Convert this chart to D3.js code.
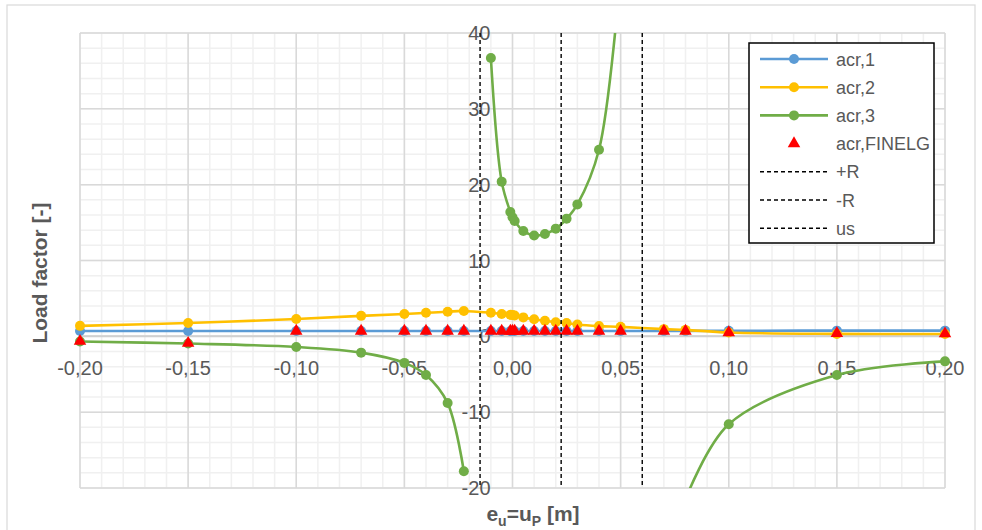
<!DOCTYPE html>
<html>
<head>
<meta charset="utf-8">
<script src="https://cdn.jsdelivr.net/npm/d3@7"></script>
<style>
    body { margin: 0; background: #ffffff; }
    svg text { font-family: "Liberation Sans", Arial, sans-serif; fill: #595959; }
</style>
</head>
<body>
<div id="graph_area"></div>
<script>
//x positions shared by acr,1 / acr,2 / FINELG
var xValues = [-0.20, -0.15, -0.10, -0.07, -0.05, -0.04, -0.03, -0.0225, -0.01, -0.005, -0.001, 0, 0.001,
    0.005, 0.01, 0.015, 0.02, 0.025, 0.03, 0.04, 0.05, 0.07, 0.08, 0.10, 0.15, 0.20];

var acr1 = [0.7, 0.7, 0.7, 0.7, 0.7, 0.7, 0.7, 0.7, 0.7, 0.7, 0.7, 0.7, 0.7,
    0.7, 0.7, 0.7, 0.7, 0.7, 0.7, 0.7, 0.7, 0.72, 0.72, 0.74, 0.75, 0.75];

var acr2 = [1.38, 1.75, 2.28, 2.7, 2.95, 3.1, 3.25, 3.35, 3.1, 2.95, 2.85, 2.8, 2.75,
    2.5, 2.25, 2.05, 1.85, 1.75, 1.55, 1.35, 1.25, 0.95, 0.85, 0.5, 0.32, 0.3];

var finelg = [-0.64, -0.9, 0.7, 0.7, 0.7, 0.7, 0.7, 0.7, 0.7, 0.7, 0.7, 0.7, 0.7,
    0.7, 0.7, 0.7, 0.7, 0.7, 0.7, 0.7, 0.7, 0.7, 0.7, 0.5, 0.4, 0.35];

//acr,3 has its own x list, null = break in the line
var acr3X = [-0.20, -0.15, -0.10, -0.07, -0.05, -0.04, -0.03, -0.0225, -0.015, -0.01, -0.005, -0.001, 0, 0.001,
    0.005, 0.01, 0.015, 0.02, 0.025, 0.03, 0.04, 0.05, 0.07, 0.08, 0.10, 0.15, 0.20];
var acr3 = [-0.68, -0.95, -1.4, -2.15, -3.5, -5.1, -8.8, -17.8, null, 36.7, 20.4, 16.4, 15.7, 15.2,
    13.9, 13.3, 13.5, 14.2, 15.5, 17.4, 24.6, 48, null, -21.5, -11.6, -5.1, -3.3];

//vertical reference lines
var refNames = ['+R', '-R', 'us'];
var refValues = [-0.015, 0.0225, 0.06];

var xTicks = [-0.20, -0.15, -0.10, -0.05, 0, 0.05, 0.10, 0.15, 0.20];
var yTicks = [-20, -10, 0, 10, 20, 30, 40];

var seriesNames = ['acr,1', 'acr,2', 'acr,3', 'acr,FINELG'];
var seriesColors = ['#5B9BD5', '#FFC000', '#70AD47', '#FF0000'];

function draw_chart() {
    var w = 982, h = 530;
    var left = 80, right = 945, top = 33, bottom = 488;

    var svg = d3.select('#graph_area').append('svg')
        .attr('width', w)
        .attr('height', h);

    //outer chart border
    svg.append('rect')
        .attr('x', 7).attr('y', 5)
        .attr('width', 968).attr('height', 530)
        .attr('fill', 'none')
        .attr('stroke', '#d9d9d9')
        .attr('stroke-width', 1.2);

    var x = d3.scaleLinear().domain([-0.2, 0.2]).range([left, right]);
    var y = d3.scaleLinear().domain([-20, 40]).range([bottom, top]);

    //minor grid
    var grid = svg.append('g');
    grid.selectAll('.vminor')
        .data(d3.range(-20, 21).map(function(i) { return i / 100; }))
        .enter().append('line')
            .attr('x1', function(d) { return x(d); })
            .attr('x2', function(d) { return x(d); })
            .attr('y1', top).attr('y2', bottom)
            .attr('stroke', '#f0f0f0').attr('stroke-width', 1.5);
    grid.selectAll('.hminor')
        .data(d3.range(-20, 41, 2))
        .enter().append('line')
            .attr('y1', function(d) { return y(d); })
            .attr('y2', function(d) { return y(d); })
            .attr('x1', left).attr('x2', right)
            .attr('stroke', '#f0f0f0').attr('stroke-width', 1.5);

    //major grid
    grid.selectAll('.vmajor')
        .data(xTicks)
        .enter().append('line')
            .attr('x1', function(d) { return x(d); })
            .attr('x2', function(d) { return x(d); })
            .attr('y1', top).attr('y2', bottom)
            .attr('stroke', '#d9d9d9').attr('stroke-width', 1.5);
    grid.selectAll('.hmajor')
        .data(yTicks)
        .enter().append('line')
            .attr('y1', function(d) { return y(d); })
            .attr('y2', function(d) { return y(d); })
            .attr('x1', left).attr('x2', right)
            .attr('stroke', '#d9d9d9').attr('stroke-width', 1.5);

    //x axis line at y = 0
    svg.append('line')
        .attr('x1', left).attr('x2', right)
        .attr('y1', y(0)).attr('y2', y(0))
        .attr('stroke', '#d0d0d0').attr('stroke-width', 2);

    //tick labels (comma decimals, plain hyphen)
    var fmt = function(d) { return d3.format('.2f')(d).replace('.', ',').replace('\u2212', '-'); };
    svg.append('g').selectAll('text')
        .data(xTicks)
        .enter().append('text')
            .attr('x', function(d) { return x(d); })
            .attr('y', y(0) + 39)
            .attr('text-anchor', 'middle')
            .style('font-size', '20px')
            .text(function(d) { return fmt(d); });

    svg.append('g').selectAll('text')
        .data(yTicks)
        .enter().append('text')
            .attr('x', x(0) - 22)
            .attr('y', function(d) { return y(d) + 7; })
            .attr('text-anchor', 'end')
            .style('font-size', '20px')
            .text(function(d) { return String(d); });

    //axis titles
    svg.append('text')
        .attr('transform', 'translate(47,' + 273 + ') rotate(-90)')
        .attr('text-anchor', 'middle')
        .style('font-size', '21px')
        .style('font-weight', 'bold')
        .text('Load factor [-]');

    var xt = svg.append('text')
        .attr('x', 533).attr('y', 521)
        .attr('text-anchor', 'middle')
        .style('font-size', '21px')
        .style('font-weight', 'bold');
    xt.append('tspan').text('e');
    xt.append('tspan').attr('dy', 5).style('font-size', '14px').text('u');
    xt.append('tspan').attr('dy', -5).text('=u');
    xt.append('tspan').attr('dy', 5).style('font-size', '14px').text('P');
    xt.append('tspan').attr('dy', -5).text(' [m]');

    //clip to plot area
    svg.append('clipPath').attr('id', 'plotclip')
        .append('rect')
            .attr('x', left - 8).attr('y', top)
            .attr('width', right - left + 16).attr('height', bottom - top);

    var plot = svg.append('g').attr('clip-path', 'url(#plotclip)');

    var line = d3.line()
        .defined(function(d) { return d[1] !== null; })
        .x(function(d) { return x(d[0]); })
        .y(function(d) { return y(d[1]); })
        .curve(d3.curveCatmullRom.alpha(0.5));

    var sets = [
        {xs: xValues, ys: acr1, color: seriesColors[0]},
        {xs: xValues, ys: acr2, color: seriesColors[1]},
        {xs: acr3X, ys: acr3, color: seriesColors[2]}
    ];

    sets.forEach(function(s) {
        var pts = s.xs.map(function(v, i) { return [v, s.ys[i]]; });
        plot.append('path')
            .datum(pts)
            .attr('d', line)
            .attr('fill', 'none')
            .attr('stroke', s.color)
            .attr('stroke-width', 2.6);
        plot.append('g').selectAll('circle')
            .data(pts.filter(function(p) { return p[1] !== null; }))
            .enter().append('circle')
                .attr('cx', function(d) { return x(d[0]); })
                .attr('cy', function(d) { return y(d[1]); })
                .attr('r', 5)
                .attr('fill', s.color);
    });

    //FINELG triangles
    var tri = d3.symbol().type(d3.symbolTriangle).size(68);
    plot.append('g').selectAll('path')
        .data(xValues.map(function(v, i) { return [v, finelg[i]]; }))
        .enter().append('path')
            .attr('d', tri)
            .attr('transform', function(d) { return 'translate(' + x(d[0]) + ',' + y(d[1]) + ')'; })
            .attr('fill', seriesColors[3]);

    //dashed reference lines
    svg.append('g').selectAll('line')
        .data(refValues)
        .enter().append('line')
            .attr('x1', function(d) { return x(d); })
            .attr('x2', function(d) { return x(d); })
            .attr('y1', top).attr('y2', bottom)
            .attr('stroke', '#000')
            .attr('stroke-width', 1.4)
            .attr('stroke-dasharray', '4,3');

    //legend
    var lg = svg.append('g');
    lg.append('rect')
        .attr('x', 749).attr('y', 43)
        .attr('width', 185).attr('height', 200)
        .attr('fill', '#fff')
        .attr('stroke', '#000')
        .attr('stroke-width', 1.5);

    var names = seriesNames.concat(refNames);
    names.forEach(function(n, i) {
        var ly = 59 + i * 28.2;
        if(i < 3) {
            lg.append('line')
                .attr('x1', 760).attr('x2', 828)
                .attr('y1', ly).attr('y2', ly)
                .attr('stroke', seriesColors[i]).attr('stroke-width', 2.6);
            lg.append('circle')
                .attr('cx', 794).attr('cy', ly).attr('r', 5)
                .attr('fill', seriesColors[i]);
        }
        else if(i == 3) {
            lg.append('path')
                .attr('d', tri)
                .attr('transform', 'translate(794,' + ly + ')')
                .attr('fill', seriesColors[3]);
        }
        else {
            lg.append('line')
                .attr('x1', 760).attr('x2', 828)
                .attr('y1', ly).attr('y2', ly)
                .attr('stroke', '#000').attr('stroke-width', 1.4)
                .attr('stroke-dasharray', '4,3');
        }
        lg.append('text')
            .attr('x', 836).attr('y', ly + 6.5)
            .style('font-size', '18px')
            .text(n);
    });
}

window.onload = draw_chart;
</script>
</body>
</html>
